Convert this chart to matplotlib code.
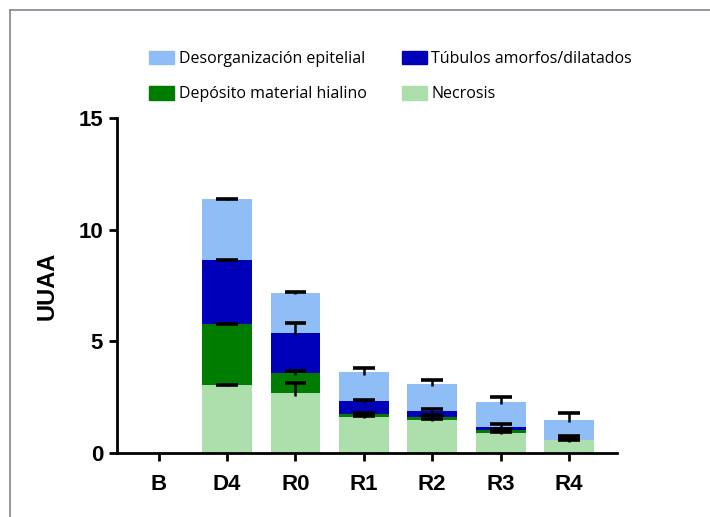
import matplotlib.pyplot as plt
from matplotlib.patches import Patch
from matplotlib.lines import Line2D
import numpy as np

groups = ["B", "D4", "R0", "R1", "R2", "R3", "R4"]

# stacked segments (bottom to top)
necrosis = [0, 3.04, 2.67, 1.60, 1.48, 0.91, 0.57]
hialino = [0, 2.72, 0.90, 0.15, 0.15, 0.12, 0.00]
tubulos = [0, 2.88, 1.82, 0.56, 0.27, 0.15, 0.03]
desorg = [0, 2.72, 1.76, 1.30, 1.19, 1.12, 0.88]

# upper error of each segment
err_necrosis = [0, 0.02, 0.48, 0.05, 0.05, 0.05, 0.05]
err_hialino = [0, 0.02, 0.12, 0.03, 0.05, 0.05, 0.0]
err_tubulos = [0, 0.02, 0.45, 0.05, 0.07, 0.12, 0.15]
err_desorg = [0, 0.02, 0.05, 0.18, 0.18, 0.22, 0.33]

c_des = "#8fbdf6"
c_tub = "#0000b8"
c_hia = "#007d00"
c_nec = "#addfad"

fig = plt.figure(figsize=(7.1, 5.17), dpi=100)
ax = fig.add_axes([0.1648, 0.1238, 0.704, 0.648])

x = np.arange(len(groups))
w = 0.73
cap = 0.16
series = [(necrosis, err_necrosis, c_nec),
          (hialino, err_hialino, c_hia),
          (tubulos, err_tubulos, c_tub),
          (desorg, err_desorg, c_des)]

bottom = np.zeros(len(groups))
tops = []
for vals, errs, col in series:
    vals = np.array(vals)
    ax.bar(x, vals, w, bottom=bottom, color=col, edgecolor="none", zorder=2)
    bottom = bottom + vals
    tops.append((bottom.copy(), np.array(errs)))

# error bars (upper caps only) drawn on top of everything
m = x > 0
for top, errs in tops:
    low = np.minimum(errs, 0.1)
    ax.vlines(x[m], top[m] - low[m], top[m] + errs[m], color="black", lw=1.8, zorder=5)
    ax.hlines(top[m] + errs[m], x[m] - cap, x[m] + cap, color="black", lw=2.6, zorder=5)

ax.set_xlim(-0.61, 6.7)
ax.set_ylim(0, 15)
ax.set_yticks([0, 5, 10, 15])
ax.set_xticks(x)
ax.set_xticklabels(groups)
for s in ["top", "right"]:
    ax.spines[s].set_visible(False)
for s in ["left", "bottom"]:
    ax.spines[s].set_linewidth(2)
ax.tick_params(axis="both", width=2, length=6, direction="out", labelsize=16)
ax.tick_params(axis="x", pad=9)
ax.tick_params(axis="y", pad=4)
for lab in ax.get_xticklabels() + ax.get_yticklabels():
    lab.set_fontweight("bold")
    lab.set_family("Liberation Sans")
ax.set_ylabel("UUAA", fontsize=17, fontweight="bold", family="Liberation Sans", labelpad=14)

handles = [Patch(color=c_des, label="Desorganización epitelial"),
           Patch(color=c_hia, label="Depósito material hialino"),
           Patch(color=c_tub, label="Túbulos amorfos/dilatados"),
           Patch(color=c_nec, label="Necrosis")]
fig.legend(handles=handles, ncol=2, frameon=False, loc="upper left",
           bbox_to_anchor=(0.19, 0.93), prop={"family": "Open Sans", "size": 11.5},
           handlelength=1.55, handleheight=0.95, handletextpad=0.3,
           columnspacing=2.2, labelspacing=1.2)

# grey frame lines (top and left) around the figure
fig.add_artist(Line2D([10 / 710, 1], [1 - 10 / 517] * 2, transform=fig.transFigure,
                      color="#808890", lw=1.2))
fig.add_artist(Line2D([10 / 710] * 2, [0, 1 - 10 / 517], transform=fig.transFigure,
                      color="#808890", lw=1.2))

fig.savefig("out.png", dpi=100)
